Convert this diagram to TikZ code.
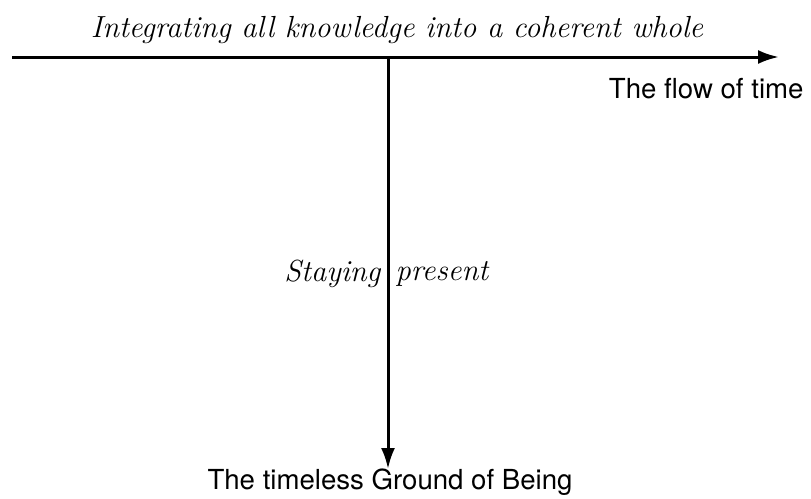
\documentclass[tikz,border=0pt]{standalone}
\usepackage{fontspec}
\setsansfont{TeX Gyre Heros}
\usetikzlibrary{arrows.meta,positioning}

\begin{document}
\begin{tikzpicture}[x=1pt,y=-1pt,>={Latex[length=21pt,width=14pt]},
  axis/.style={->,line width=3pt},
  plain/.style={font=\fontsize{27.6}{32}\selectfont\sffamily},
  script/.style={font=\fontsize{30.5}{36}\selectfont\itshape}]
\useasboundingbox(0,0)rectangle(811,498);
% axes
\coordinate(west)at(12,57);
\coordinate(east)at(779,57);
\coordinate(top)at(388,57);
\coordinate(bottom)at(388,469);
\draw[axis](west)--(east);
\draw[axis](top)--(bottom);
% labels
\node[script](whole)at(397,30){Integrating all knowledge into a coherent whole};
\node[plain,anchor=east](flow)at(807,89){The flow of time};
\node[script,anchor=east](stay)at(384,274){Staying};
\node[script,anchor=west](present)at(392,274){present};
\node[plain](ground)at(390,482){The timeless Ground of Being};
\end{tikzpicture}
\end{document}
